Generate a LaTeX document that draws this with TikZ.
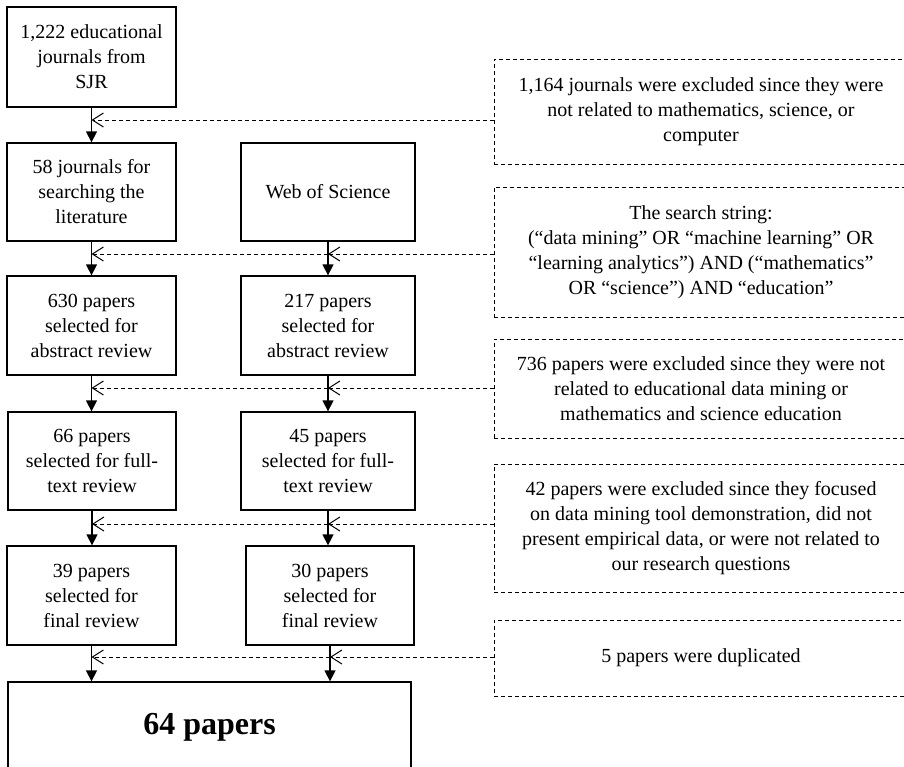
\documentclass[tikz,border=0pt]{standalone}
\usepackage{fontspec}
\setmainfont{Liberation Serif}
\usetikzlibrary{arrows.meta}
\tikzset{
  box/.style={draw=black, line width=1.3pt, align=center, inner sep=2pt,
    font=\fontsize{20}{25}\selectfont, text=black},
  exbox/.style={draw=black, line width=1pt, dash pattern=on 4pt off 3pt, align=center, inner sep=2pt,
    font=\fontsize{20}{25}\selectfont, text=black},
  sarrow/.style={line width=1.3pt, -{Triangle[length=11pt,width=11pt]}},
  dline/.style={line width=1pt, dash pattern=on 4pt off 3pt, -{Straight Barb[length=11pt,width=14pt,line width=1pt]}}
}
\begin{document}
\begin{tikzpicture}[x=1pt,y=-1pt]
\useasboundingbox (0,0) rectangle (904,766);
% left and right columns
\node[box, minimum width=169pt, minimum height=100pt] (a1) at (91.5,57) {1,222 educational\\journals from\\SJR};
\node[box, minimum width=169pt, minimum height=98pt] (a2) at (91.5,192) {58 journals for\\searching the\\literature};
\node[box, minimum width=174pt, minimum height=98pt] (b2) at (328,192) {Web of Science};
\node[box, minimum width=169pt, minimum height=99pt] (a3) at (91.5,325.5) {630 papers\\selected for\\abstract review};
\node[box, minimum width=174pt, minimum height=99pt] (b3) at (328,325.5) {217 papers\\selected for\\abstract review};
\node[box, minimum width=168pt, minimum height=98pt] (a4) at (92,461) {66 papers\\selected for full-\\text review};
\node[box, minimum width=174pt, minimum height=98pt] (b4) at (328,461) {45 papers\\selected for full-\\text review};
\node[box, minimum width=169pt, minimum height=99pt] (a5) at (91.5,595.5) {39 papers\\selected for\\final review};
\node[box, minimum width=168pt, minimum height=99pt] (b5) at (330,595.5) {30 papers\\selected for\\final review};
\node[box, minimum width=403pt, minimum height=90pt, font=\fontsize{32}{38}\selectfont\bfseries] (fin) at (209.5,727) {64 papers};
% exclusion boxes
\node[exbox, minimum width=414pt, minimum height=105pt] (ex1) at (701,111.5) {1,164 journals were excluded since they were\\not related to mathematics, science, or\\computer};
\node[exbox, minimum width=414pt, minimum height=130pt] (ex2) at (701,252) {The search string:\\(“data mining” OR “machine learning” OR\\“learning analytics”) AND (“mathematics”\\OR “science”) AND “education”};
\node[exbox, minimum width=414pt, minimum height=99pt] (ex3) at (701,388.5) {736 papers were excluded since they were not\\related to educational data mining or\\mathematics and science education};
\node[exbox, minimum width=414pt, minimum height=128pt] (ex4) at (701,528) {42 papers were excluded since they focused\\on data mining tool demonstration, did not\\present empirical data, or were not related to\\our research questions};
\node[exbox, minimum width=414pt, minimum height=76pt] (ex5) at (701,658) {5 papers were duplicated};
% connector levels
\coordinate (k1) at (0,120);
\coordinate (k2) at (0,254);
\coordinate (k3) at (0,388);
\coordinate (k4) at (0,524);
\coordinate (k5) at (0,657);
% solid arrows
\draw[sarrow] (a1.south) -- (a1.south |- a2.north);
\draw[sarrow] (a2.south) -- (a2.south |- a3.north);
\draw[sarrow] (b2.south) -- (b2.south |- b3.north);
\draw[sarrow] (a3.south) -- (a3.south |- a4.north);
\draw[sarrow] (b3.south) -- (b3.south |- b4.north);
\draw[sarrow] (a4.south) -- (a4.south |- a5.north);
\draw[sarrow] (b4.south) -- (b4.south |- b5.north);
\draw[sarrow] (a5.south) -- (a5.south |- fin.north);
\draw[sarrow] (b5.south) -- (b5.south |- fin.north);
% dashed connectors
\draw[dline] (ex1.west |- k1) -- (a1.south |- k1);
\draw[dline] (ex2.west |- k2) -- (b2.south |- k2);
\draw[dline] (b2.south |- k2) -- (a2.south |- k2);
\draw[dline] (ex3.west |- k3) -- (b3.south |- k3);
\draw[dline] (b3.south |- k3) -- (a3.south |- k3);
\draw[dline] (ex4.west |- k4) -- (b4.south |- k4);
\draw[dline] (b4.south |- k4) -- (a4.south |- k4);
\draw[dline] (ex5.west |- k5) -- (b5.south |- k5);
\draw[dline] (b5.south |- k5) -- (a5.south |- k5);
\end{tikzpicture}
\end{document}
